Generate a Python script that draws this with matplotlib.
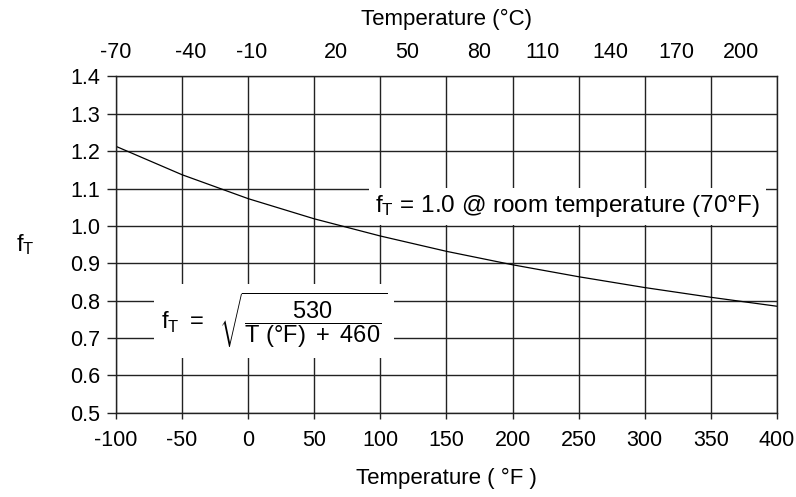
import matplotlib
matplotlib.use("Agg")
import matplotlib.pyplot as plt

plt.rcParams['font.family'] = ['Liberation Sans', 'DejaVu Sans']
plt.rcParams['mathtext.fontset'] = 'custom'
plt.rcParams['mathtext.rm'] = 'Liberation Sans'
plt.rcParams['mathtext.it'] = 'Liberation Sans'
plt.rcParams['mathtext.bf'] = 'Liberation Sans:bold'
plt.rcParams['axes.unicode_minus'] = False

# Data
temp_f = [-100, -50, 0, 50, 100, 150, 200, 250, 300, 350, 400]
f_t = [1.213, 1.137, 1.073, 1.019, 0.973, 0.932, 0.896, 0.864, 0.835, 0.809, 0.785]

x_ticks = [-100, -50, 0, 50, 100, 150, 200, 250, 300, 350, 400]
y_ticks = [0.5, 0.6, 0.7, 0.8, 0.9, 1.0, 1.1, 1.2, 1.3, 1.4]
c_labels = ['-70', '-40', '-10', '20', '50', '80', '110', '140', '170', '200']
c_label_pos_f = [-101, -44, 1.5, 66, 120, 174, 222, 274, 324, 373]

fig = plt.figure(figsize=(7.96, 4.97), dpi=100)
ax = fig.add_axes([0.1457, 0.1696, 0.8303, 0.6765])
ax.set_xlim(-100, 400)
ax.set_ylim(0.5, 1.4)

line_col = '#222222'
for s in ax.spines.values():
    s.set_color(line_col)
    s.set_linewidth(1.0)

ax.set_xticks(x_ticks)
ax.set_yticks(y_ticks)
ax.set_yticklabels([f'{v:.1f}' for v in y_ticks])
ax.tick_params(axis='x', length=4.5, width=1.0, color=line_col, labelsize=15.5, pad=8)
ax.tick_params(axis='y', length=6.5, width=1.0, color=line_col, labelsize=15.5, pad=5)
ax.grid(True, color=line_col, linewidth=1.0)
ax.set_axisbelow(True)

ax.plot(temp_f, f_t, color='black', linewidth=0.9, zorder=2)

ax.set_xlabel('Temperature ( °F )', fontsize=16, labelpad=12)
ax.set_ylabel(r'$\mathrm{f_{T}}$', fontsize=17, rotation=0, labelpad=32, va='center')

ax2 = ax.twiny()
ax2.set_xlim(ax.get_xlim())
ax2.set_xticks(c_label_pos_f)
ax2.set_xticklabels(c_labels)
ax2.tick_params(axis='x', length=0, labelsize=15.5, pad=10)
for s in ax2.spines.values():
    s.set_visible(False)
ax2.set_xlabel('Temperature (°C)', fontsize=16, labelpad=12)

ax.text(96, 1.053, r'$\mathrm{f_{T}}$ = 1.0 @ room temperature (70°F)', fontsize=17.5,
        ha='left', va='center', zorder=5,
        bbox=dict(facecolor='white', edgecolor='none', pad=4))

ax.text(-66, 0.745, r'$\mathrm{f_{T}\ =\ \ \sqrt{\dfrac{530}{T\ (°F)\ +\ 460}}\ }$', fontsize=17,
        ha='left', va='center', zorder=5,
        bbox=dict(facecolor='white', edgecolor='none', pad=5))

fig.savefig('out.png', dpi=100)
